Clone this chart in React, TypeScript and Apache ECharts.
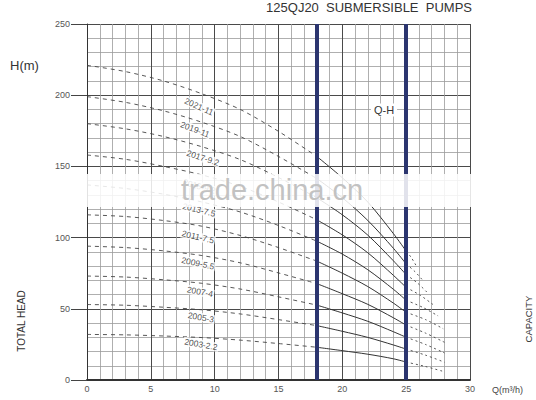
import React, { useEffect, useRef } from "react";
import * as echarts from "echarts";

const models = ["2003-2.2", "2005-3", "2007-4", "2009-5.5", "2011-7.5", "2013-7.5", "2015-9.2", "2017-9.2", "2019-11", "2021-11"];

// dashed part of each Q-H curve (Q = 0..18)
const dashedQ = [0, 3, 6, 9, 12, 15, 18];
const dashedH = [
  [32, 31.7, 30.9, 29.8, 28, 25.6, 23],
  [53, 52.5, 51.1, 49.3, 46.4, 42.4, 38.2],
  [73, 72.3, 70.4, 67.9, 63.9, 58.4, 52.6],
  [94, 93, 90.7, 87.4, 82.3, 75.2, 67.7],
  [116, 114.8, 112, 108, 101.5, 93, 83.5],
  [137, 134.5, 130.5, 125, 118, 108.5, 97.5],
  [158, 155, 150, 144, 136, 125, 112.5],
  [180, 176.4, 171, 163.8, 154.8, 142.2, 128],
  [199, 195, 189, 181, 171, 157, 141.5],
  [221, 216.6, 210, 201, 190, 174.6, 157],
];

// solid part (working range Q = 18..25)
const solidQ = [18, 20, 22, 24, 25];
const solidH = [
  [23, 20.6, 18.1, 14.9, 12.6],
  [38.2, 34.2, 29.9, 24.6, 21.7],
  [52.6, 47.1, 41.2, 33.9, 30],
  [67.7, 60.6, 53.1, 43.7, 38.5],
  [83.5, 75, 65.6, 54, 47.5],
  [97.5, 88.4, 77.4, 63.7, 56],
  [112.5, 101.9, 89.3, 73.5, 65],
  [128, 116, 101.7, 83.7, 74],
  [141.5, 128, 112, 92.5, 81.5],
  [157, 142, 124.9, 102.8, 90.5],
];

// dotted tail beyond Q = 25
const tailQ = [
  [25, 26.5, 28],
  [25, 26.5, 28],
  [25, 26.5, 28],
  [25, 26.5, 28],
  [25, 26.5, 27.9],
  [25, 26.3, 27.5],
  [25, 26.1, 27.1],
  [25, 25.9, 26.7],
  [25, 25.7, 26.3],
  [25, 25.4, 25.8],
];
const tailH = [
  [12.6, 9.5, 5.8],
  [21.7, 17.5, 12.5],
  [30, 25, 19],
  [38.5, 33, 26.5],
  [47.5, 42.5, 36],
  [56, 51, 45],
  [65, 59.5, 53],
  [74, 68, 61],
  [81.5, 76, 70],
  [90.5, 86, 80],
];

// inline model labels
const labelQ = [8.93, 8.93, 8.85, 8.69, 8.69, 8.77, 8.8, 9.08, 8.46, 8.77];
const labelH = [25, 44, 62, 82, 100.5, 119.5, 136, 156, 176, 192];
const labelAngle = [-10, -10, -11, -12, -13, -14, -16, -18, -21, -24];

// heavy reference lines (Q limits)
const limitQ = [18, 25];

const FONT = "'Liberation Sans', Arial, Helvetica, sans-serif";

export default function App() {
  const ref = useRef<HTMLDivElement>(null);

  useEffect(() => {
    if (!ref.current) return;
    const chart = echarts.init(ref.current, undefined, { renderer: "svg" });

    const series: any[] = [];
    models.forEach((m, i) => {
      series.push({
        type: "line",
        name: m + "-a",
        data: dashedQ.map((q, j) => [q, dashedH[i][j]]),
        symbol: "none",
        smooth: 0.3,
        lineStyle: { type: [4, 4], color: "#444", width: 0.9 },
        z: 3,
      });
      series.push({
        type: "line",
        name: m + "-b",
        data: solidQ.map((q, j) => [q, solidH[i][j]]),
        symbol: "none",
        smooth: 0.3,
        lineStyle: { type: "solid", color: "#333", width: 1 },
        z: 3,
      });
      series.push({
        type: "line",
        name: m + "-c",
        data: tailQ[i].map((q, j) => [q, tailH[i][j]]),
        symbol: "none",
        smooth: 0.3,
        lineStyle: { type: [2, 3], color: "#444", width: 0.9 },
        z: 3,
      });
    });

    const labelStyle = {
      show: true,
      position: "inside",
      formatter: "{b}",
      fontSize: 8.5,
      fontFamily: FONT,
      color: "#222",
      backgroundColor: "#fff",
      padding: [0, 1],
    };

    series.push({
      type: "scatter",
      name: "labels",
      symbolSize: 0,
      z: 6,
      itemStyle: { color: "#222" },
      data: models.map((m, i) => ({
        value: [labelQ[i], labelH[i]],
        name: m,
        label: { ...labelStyle, rotate: labelAngle[i] },
      })),
      label: labelStyle,
    });

    series.push({
      type: "scatter",
      name: "limits",
      symbolSize: 0,
      data: [[0, 0]],
      z: 7,
      markLine: {
        silent: true,
        symbol: "none",
        label: { show: false },
        lineStyle: { color: "#2b356f", width: 4, type: "solid" },
        data: limitQ.map((q) => ({ xAxis: q })),
      },
    });

    chart.setOption({
      animation: false,
      backgroundColor: "#fff",
      grid: { left: 87, right: 66, top: 24, bottom: 20, containLabel: false },
      xAxis: {
        type: "value",
        min: 0,
        max: 30,
        interval: 5,
        name: "Q(m³/h)",
        nameLocation: "end",
        nameGap: 22,
        nameTextStyle: { fontSize: 9, color: "#444", fontFamily: FONT, verticalAlign: "top", padding: [5, 0, 0, 0] },
        axisLine: { show: true, lineStyle: { color: "#333", width: 2 } },
        axisTick: { show: false },
        axisLabel: { fontSize: 9, color: "#555", margin: 4, fontFamily: FONT },
        splitLine: { show: true, lineStyle: { color: "#4a4a4a", width: 1 } },
        minorTick: { show: false, splitNumber: 5 },
        minorSplitLine: { show: true, lineStyle: { color: "#9a9a9a", width: 0.8 } },
      },
      yAxis: {
        type: "value",
        min: 0,
        max: 250,
        interval: 50,
        axisLine: { show: true, lineStyle: { color: "#333", width: 1 } },
        axisTick: { show: true, length: 16, lineStyle: { color: "#444", width: 1 } },
        axisLabel: { fontSize: 9, color: "#555", margin: 17, fontFamily: FONT },
        splitLine: { show: true, lineStyle: { color: "#4a4a4a", width: 1 } },
        minorTick: { show: false, splitNumber: 5 },
        minorSplitLine: { show: true, lineStyle: { color: "#9a9a9a", width: 0.8 } },
      },
      series,
      graphic: [
        {
          type: "text",
          x: 472,
          y: 1,
          z: 100,
          style: {
            text: "125QJ20  SUBMERSIBLE  PUMPS",
            fill: "#333",
            font: "13px " + FONT,
            textAlign: "right",
            textVerticalAlign: "top",
          },
        },
        {
          type: "text",
          x: 10,
          y: 59,
          z: 100,
          style: { text: "H(m)", fill: "#333", font: "13px " + FONT },
        },
        {
          type: "text",
          x: 21,
          y: 321,
          rotation: Math.PI / 2,
          z: 100,
          style: { text: "TOTAL HEAD", fill: "#333", font: "10px " + FONT, textAlign: "center", textVerticalAlign: "middle" },
        },
        {
          type: "text",
          x: 528,
          y: 319,
          rotation: Math.PI / 2,
          z: 100,
          style: { text: "CAPACITY", fill: "#333", font: "9.5px " + FONT, textAlign: "center", textVerticalAlign: "middle" },
        },
        {
          type: "text",
          x: 384,
          y: 110,
          z: 100,
          style: {
            text: "Q-H",
            fill: "#333",
            font: "11px " + FONT,
            textAlign: "center",
            textVerticalAlign: "middle",
            backgroundColor: "#fff",
            padding: [1, 3],
          },
        },
        {
          type: "rect",
          z: 200,
          shape: { x: 84, y: 174, width: 400, height: 33 },
          style: { fill: "rgba(255,255,255,0.86)" },
        },
        {
          type: "text",
          x: 272,
          y: 190,
          z: 201,
          style: {
            text: "trade.china.cn",
            fill: "#c2c2c2",
            font: "29px " + FONT,
            textAlign: "center",
            textVerticalAlign: "middle",
          },
        },
      ],
    });

    return () => chart.dispose();
  }, []);

  return <div ref={ref} style={{ position: "fixed", left: 0, top: 0, width: 536, height: 400 }} />;
}
